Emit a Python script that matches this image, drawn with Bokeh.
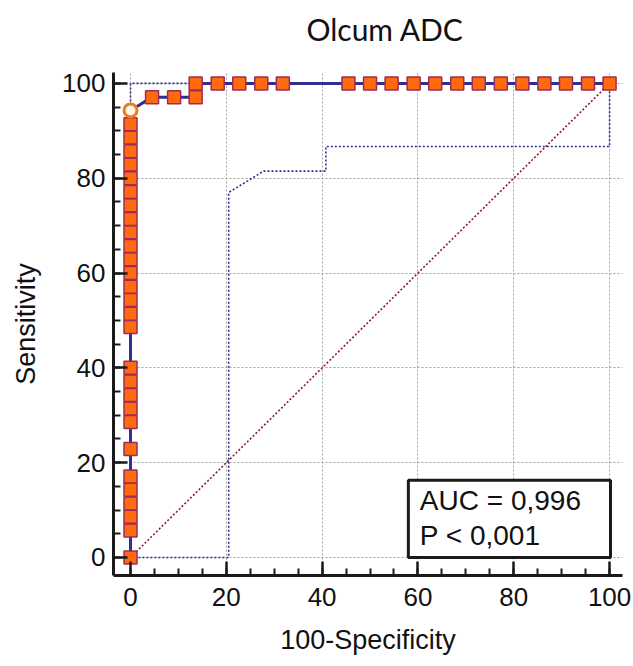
from bokeh.plotting import figure
from bokeh.models import Range1d, SingleIntervalTicker, BoxAnnotation, Label, Title
from bokeh.embed import file_html
from bokeh.resources import INLINE

# ---- data ----
# ROC curve (100-Specificity, Sensitivity)
roc_x = [0, 0, 4.5, 13.6, 13.6, 100]
roc_y = [0, 94.3, 97.1, 97.1, 100, 100]

# observed points on the curve
col_sens = [0, 5.7, 8.6, 11.4, 14.3, 17.1, 22.9, 28.6, 31.4, 34.3, 37.1, 40.0,
            48.6, 51.4, 54.3, 57.1, 60.0, 62.9, 65.7, 68.6, 71.4, 74.3, 77.1,
            80.0, 82.9, 85.7, 88.6, 91.4]
row97_spec = [4.5, 9.1, 13.6]
row97_sens = [97.1, 97.1, 97.1]
row100_spec = [13.6, 18.2, 22.7, 27.3, 31.8, 45.5, 50.0, 54.5, 59.1, 63.6, 68.2,
               72.7, 77.3, 81.8, 86.4, 90.9, 95.5, 100.0]

# optimal criterion point
crit_x = [0]
crit_y = [94.3]

# confidence bounds
ci_low_x = [0, 20.5, 20.5, 27.8, 40.8, 40.8, 100, 100]
ci_low_y = [0, 0, 77.0, 81.5, 81.5, 86.7, 86.7, 100]
ci_up_x = [0, 0, 100]
ci_up_y = [0, 100, 100]

diag_x = [0, 100]
diag_y = [0, 100]

title_text = "Olcum ADC"
auc_text = "AUC = 0,996"
p_text = "P < 0,001"

# ---- figure ----
p = figure(width=633, height=658, output_backend="svg", toolbar_location=None,
           x_range=Range1d(-3.55, 102.7), y_range=Range1d(-3.8, 102.3),
           min_border_left=113, min_border_right=11, min_border_top=72,
           min_border_bottom=83, title=title_text)
p.outline_line_color = None
p.background_fill_color = "white"
p.border_fill_color = "white"

p.title.align = "left"
p.title.offset = 193
p.title.text_font = "Lato"
p.title.text_font_size = "30px"
p.title.text_font_style = "normal"
p.title.text_color = "#111111"
p.title.text_line_height = 1.0
p.title.standoff = 10

# small spacer between the title and the frame
p.add_layout(Title(text=" ", text_font_size="12px", text_line_height=1.0,
                   standoff=5), "above")

for ax in (p.xaxis[0], p.yaxis[0]):
    ax.ticker = SingleIntervalTicker(interval=20, num_minor_ticks=4)
    ax.axis_line_width = 3
    ax.axis_line_color = "#1a1a1a"
    ax.major_tick_in = 14
    ax.major_tick_out = 0
    ax.minor_tick_in = 7
    ax.minor_tick_out = 0
    ax.major_tick_line_width = 2.5
    ax.minor_tick_line_width = 2
    ax.major_tick_line_color = "#1a1a1a"
    ax.minor_tick_line_color = "#1a1a1a"
    ax.major_label_text_font = "Liberation Sans"
    ax.major_label_text_font_size = "26px"
    ax.major_label_text_color = "#111111"
    ax.axis_label_text_font = "Liberation Sans"
    ax.axis_label_text_font_size = "27px"
    ax.axis_label_text_font_style = "normal"
    ax.axis_label_text_color = "#111111"

p.xaxis.axis_label = "100-Specificity"
p.yaxis.axis_label = "Sensitivity"
p.xaxis.major_label_standoff = 12
p.yaxis.major_label_standoff = 8
p.xaxis.axis_label_standoff = 16
p.yaxis.axis_label_standoff = 18

for g in (p.xgrid[0], p.ygrid[0]):
    g.ticker = SingleIntervalTicker(interval=20)
    g.grid_line_color = "#a0a0a0"
    g.grid_line_dash = "2 2"
    g.grid_line_width = 1

# confidence bounds
p.line(ci_low_x, ci_low_y, line_color="#2e2f8f", line_width=1.6, line_dash="2 2")
p.line(ci_up_x, ci_up_y, line_color="#2e2f8f", line_width=1.6, line_dash="2 2")
# diagonal reference
p.line(diag_x, diag_y, line_color="#8b1a2a", line_width=1.6, line_dash="2 2")
# ROC curve
p.line(roc_x, roc_y, line_color="#2e2f8f", line_width=3)

sq_x = [0] * len(col_sens) + row97_spec + row100_spec
sq_y = col_sens + row97_sens + [100] * len(row100_spec)
p.scatter(sq_x, sq_y, marker="square", size=13, fill_color="#ff6a0e",
          line_color="#9b2d5a", line_width=1.5)
p.scatter(crit_x, crit_y, marker="circle", size=13, fill_color="#fff6e8",
          line_color="#f07a20", line_width=3)

# AUC box
box = BoxAnnotation(left=58.0, right=100.2, bottom=0.0, top=16.3,
                    fill_color="white", fill_alpha=1.0,
                    line_color="#1a1a1a", line_width=3, line_alpha=1.0)
p.add_layout(box)
p.add_layout(Label(x=60.4, y=12.0, text=auc_text, text_baseline="middle",
                   text_font="Liberation Sans", text_font_size="28px",
                   text_color="#111111"))
p.add_layout(Label(x=60.4, y=4.6, text=p_text, text_baseline="middle",
                   text_font="Liberation Sans", text_font_size="28px",
                   text_color="#111111"))

open("out.html", "w").write(file_html(p, INLINE))
